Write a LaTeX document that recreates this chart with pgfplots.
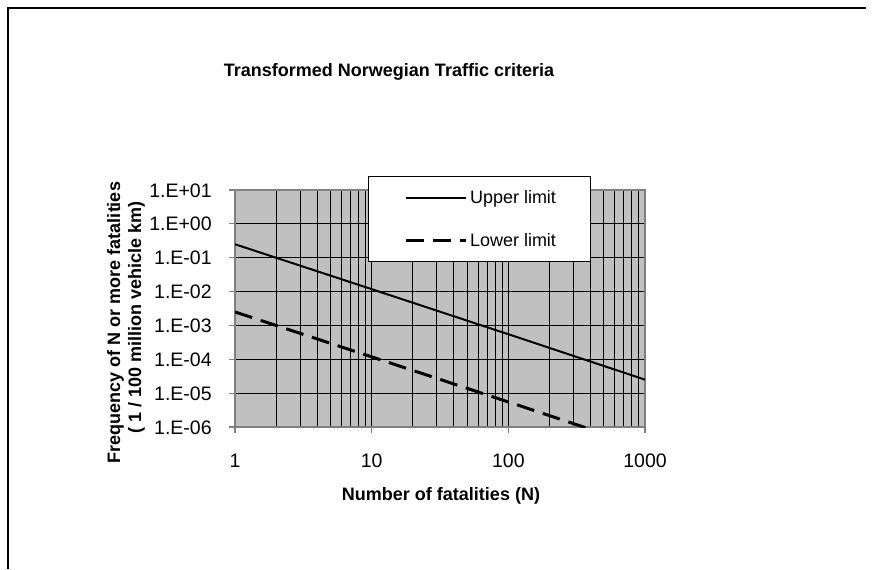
\documentclass[border=0pt]{standalone}
\usepackage{fontspec}
\setmainfont{Liberation Sans}
\usepackage{pgfplots}
\pgfplotsset{compat=1.18}

\definecolor{plotarea}{RGB}{192,192,192}
\definecolor{framegray}{RGB}{128,128,128}

\begin{document}
\begin{tikzpicture}
% page size and chart frame (only its left and top sides fall on the page)
\path[use as bounding box] (0pt,0pt) rectangle (436pt,284.5pt);
\fill[black] (3.4pt,0pt) rectangle (4.6pt,281.1pt);
\fill[black] (3.4pt,279.9pt) rectangle (433pt,281.1pt);

\begin{axis}[
  at={(117.5pt,71pt)}, anchor=south west,
  scale only axis, width=205pt, height=118.5pt,
  xmode=log, ymode=log,
  xmin=1, xmax=1000, ymin=1e-6, ymax=10,
  axis background/.style={fill=plotarea},
  xmajorgrids, xminorgrids, ymajorgrids,
  major grid style={black, line width=0.5pt},
  minor grid style={black, line width=0.5pt},
  axis line style={framegray, line width=0.6pt},
  tick align=outside, tick pos=left,
  major tick length=3pt, minor tick length=0pt,
  tick style={framegray, line width=0.6pt},
  xtick={1,10,100,1000}, xticklabels={1,10,100,1000},
  ytick={1e-6,1e-5,1e-4,1e-3,1e-2,1e-1,1,10},
  yticklabels={1.E-06,1.E-05,1.E-04,1.E-03,1.E-02,1.E-01,1.E+00,1.E+01},
  ticklabel style={font=\fontsize{9.75}{11}\selectfont, inner sep=0pt},
  xticklabel style={anchor=base, yshift=-17pt},
  yticklabel style={anchor=base east, xshift=-8.5pt, yshift=-3.5pt},
  legend image code/.code={%
    \path[draw=none, fill=none] (-18.5pt,-4.5pt) rectangle (30pt,4.5pt);
    \draw[#1] (0pt,0pt) -- (30pt,0pt);},
  legend style={at={(0.3244,1.059)}, anchor=north west,
    draw=black, line width=0.5pt, fill=white,
    inner xsep=0pt, inner ysep=6pt, row sep=12pt, column sep=1.5pt,
    nodes={inner sep=0pt},
    font=\fontsize{9}{11}\selectfont},
  legend cell align=left,
]
\addplot[black, line width=1pt] coordinates {
  (1,0.25) (10,0.0118) (100,5.5e-4) (1000,2.5e-5)
};
\addlegendentry{\makebox[60pt][l]{\rule[-1.3pt]{0pt}{9pt}Upper limit}}
\addplot[black, line width=1.5pt, dash pattern=on 9pt off 4.5pt] coordinates {
  (1,2.5e-3) (10,1.18e-4) (100,5.5e-6) (1000,2.5e-7)
};
\addlegendentry{\makebox[60pt][l]{\rule[-1.3pt]{0pt}{9pt}Lower limit}}
\end{axis}

% titles and axis labels
\node[anchor=base, font=\bfseries\fontsize{9}{11}\selectfont]
  at (194.5pt,246.5pt) {Transformed Norwegian Traffic criteria};
\node[anchor=base, font=\bfseries\fontsize{9}{11}\selectfont]
  at (220.5pt,34.5pt) {Number of fatalities (N)};
\node[rotate=90, anchor=base, font=\bfseries\fontsize{9}{11}\selectfont]
  at (60pt,123.25pt) {Frequency of N or more fatalities};
\node[rotate=90, anchor=base, font=\bfseries\fontsize{9}{11}\selectfont]
  at (70.5pt,125.75pt) {( 1 / 100 million vehicle km)};
\end{tikzpicture}
\end{document}
